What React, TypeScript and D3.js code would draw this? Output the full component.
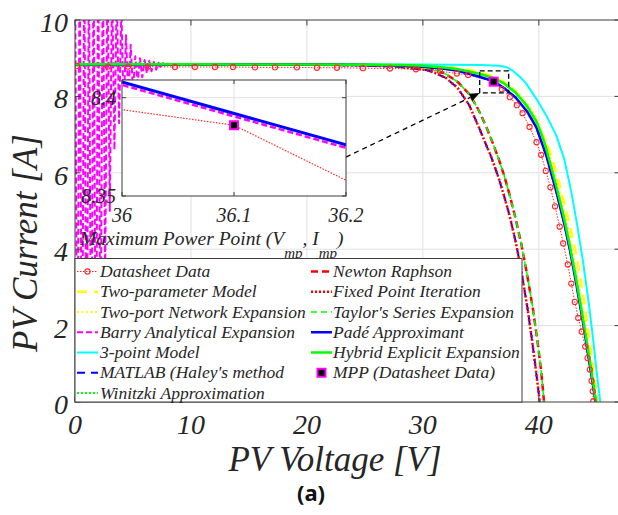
import React from "react";
import * as d3 from "d3";

type Pt = [number, number];

// ---- axis ticks -------------------------------------------------------------
const xTicks = [0, 10, 20, 30, 40];
const yTicks = [0, 2, 4, 6, 8, 10];
const insetXTicks = [36, 36.1, 36.2];
const insetYTicks = [8.35, 8.4];
const insetXLabels = ["36", "36.1", "36.2"];
const insetYLabels = ["8.35", "8.4"];

// ---- I-V data (voltage [V], current [A]) -----------------------------------
const datasheetData: Pt[] = [
  [0.17, 8.8], [2.84, 8.78], [4.57, 8.78], [6.29, 8.78], [8.62, 8.77], [10.34, 8.77],
  [12.07, 8.77], [13.62, 8.77], [15.52, 8.76], [17.24, 8.76], [19.14, 8.76], [20.86, 8.75],
  [22.59, 8.75], [24.83, 8.74], [27.16, 8.73], [29.4, 8.71], [31.47, 8.66], [32.93, 8.6],
  [33.9, 8.56], [36.1, 8.386], [36.8, 8.19], [37.5, 7.98], [38.1, 7.77], [38.6, 7.56],
  [39.2, 7.2], [39.8, 6.8], [40.2, 6.47], [40.6, 6.05], [41.0, 5.62], [41.4, 5.12],
  [41.8, 4.59], [42.1, 4.15], [42.5, 3.6], [42.8, 3.1], [43.1, 2.62], [43.4, 2.2],
  [43.7, 1.84], [44.0, 1.45], [44.2, 1.15], [44.4, 0.85], [44.55, 0.55], [44.65, 0.28],
  [44.7, 0.02],
];

const mppPoint: Pt = [36.1, 8.386];

const twoParameterModel: Pt[] = [
  [0, 8.84], [20, 8.835], [28, 8.82], [32, 8.77], [34, 8.69], [35, 8.62], [36, 8.53],
  [37, 8.38], [38, 8.12], [38.4, 7.98], [39, 7.72], [39.8, 7.3], [40.7, 6.77], [41.2, 6.33],
  [42, 5.45], [42.6, 4.7], [43.2, 3.9], [43.8, 2.85], [44.4, 1.55], [44.8, 0.6], [45.05, 0],
];

const twoPortNetwork: Pt[] = [
  [0, 8.84], [20, 8.835], [28, 8.82], [30, 8.8], [32, 8.76], [34, 8.67], [35, 8.6],
  [36, 8.52], [37, 8.38], [38, 8.16], [39, 7.82], [39.8, 7.44], [40.65, 6.78], [41.5, 5.85],
  [42.2, 4.98], [42.7, 4.25], [43.2, 3.45], [43.7, 2.58], [44.2, 1.62], [44.5, 1.02],
  [44.8, 0.4], [45.0, 0],
];

const threePointModel: Pt[] = [
  [0, 8.84], [20, 8.84], [30, 8.835], [35, 8.825], [36.5, 8.8], [37.2, 8.77], [37.8, 8.66],
  [38.4, 8.5], [38.9, 8.34], [39.8, 7.93], [40.7, 7.47], [41.5, 6.98], [42.2, 6.35],
  [42.8, 5.5], [43.3, 4.65], [43.8, 3.7], [44.3, 2.6], [44.7, 1.6], [45.0, 0.75], [45.3, 0],
];

const padeApproximant: Pt[] = [
  [0, 8.84], [10, 8.84], [20, 8.835], [25, 8.825], [28, 8.81], [30, 8.785], [32, 8.72],
  [33, 8.67], [34, 8.59], [35, 8.5], [36, 8.408], [36.2, 8.376], [37, 8.22], [38, 7.97],
  [39, 7.6], [39.8, 7.18], [40.65, 6.45], [41.5, 5.52], [42.2, 4.66], [42.7, 3.95],
  [43.2, 3.15], [43.7, 2.28], [44.2, 1.35], [44.5, 0.78], [44.8, 0.2], [44.9, 0],
];

const hybridExplicit: Pt[] = [
  [0, 8.84], [10, 8.84], [20, 8.835], [25, 8.83], [28, 8.82], [30, 8.8], [32, 8.75],
  [33, 8.71], [34, 8.65], [35, 8.58], [36, 8.49], [37, 8.34], [38, 8.1], [39, 7.74],
  [39.8, 7.34], [40.2, 7.04], [40.65, 6.62], [41.5, 5.66], [42.2, 4.78], [42.7, 4.05],
  [43.2, 3.25], [43.7, 2.38], [44.2, 1.45], [44.5, 0.88], [44.8, 0.28], [44.95, 0],
];

// series expansion diverges at low voltage, then settles onto the curve
const barryExpansion: Pt[] = [
  [0.0, 12], [0.2, -1], [0.4, 12], [0.6, -1], [0.8, 12], [1.0, -1], [1.2, 12], [1.4, -1],
  [1.6, 12], [1.8, -1], [2.0, 12], [2.2, 0.5], [2.4, 12], [2.6, 3.2], [2.8, 11.5],
  [3.0, 5.0], [3.2, 11], [3.4, 6.6], [3.6, 10.8], [3.8, 7.3], [4.0, 10.3], [4.2, 7.6],
  [4.4, 9.6], [4.6, 7.9], [4.8, 9.35], [5.0, 8.15], [5.2, 9.05], [5.4, 8.35], [5.6, 9.0],
  [5.8, 8.5], [6.0, 8.95], [6.2, 8.6], [6.4, 8.93], [6.6, 8.66], [6.8, 8.9], [7.0, 8.7],
  [7.2, 8.88], [7.4, 8.75], [7.6, 8.87], [7.8, 8.79], [8.0, 8.86], [8.2, 8.82], [8.6, 8.84],
  [10, 8.84], [20, 8.835], [25, 8.825], [28, 8.81], [30, 8.785], [32, 8.72], [33, 8.67],
  [34, 8.59], [35, 8.499], [36, 8.4065], [36.2, 8.3745], [37, 8.218], [38, 7.968],
  [39, 7.598], [39.8, 7.178], [40.65, 6.448], [41.5, 5.518], [42.2, 4.658], [42.7, 3.948],
  [43.2, 3.148], [43.7, 2.278], [44.2, 1.348], [44.5, 0.778], [44.8, 0.198], [44.9, 0],
];

// iterative Lambert-W solvers landing on the lower-voltage curve
const iterativeSolution: Pt[] = [
  [0, 8.84], [20, 8.83], [25, 8.81], [28, 8.77], [30.3, 8.69], [31, 8.62], [32, 8.48],
  [33, 8.22], [34, 7.77], [34.9, 7.14], [35.5, 6.7], [35.85, 6.45], [36.5, 5.9], [37, 5.4],
  [37.5, 4.85], [38, 4.2], [38.5, 3.42], [39, 2.5], [39.4, 1.65], [39.7, 0.95], [40.0, 0.2],
  [40.08, 0],
];

const newtonRaphson: Pt[] = [
  [0, 8.84], [20, 8.835], [25, 8.82], [28, 8.8], [30, 8.76], [31, 8.7], [32, 8.58],
  [33, 8.38], [34, 8.06], [34.6, 7.76], [35, 7.52], [35.5, 7.18], [36, 6.8], [36.5, 6.4],
  [37, 5.94], [37.5, 5.4], [38, 4.8], [38.5, 4.12], [39, 3.32], [39.5, 2.42], [39.9, 1.55],
  [40.2, 0.82], [40.45, 0],
];

// zoom window around the MPP (V range, I range) and arrow source on the inset edge
const zoomWindowV = [34.9, 37.4];
const zoomWindowI = [8.09, 8.67];
const arrowFromInset: Pt = [36.2, 8.3698];

const legendLeft = [
  "Datasheet Data",
  "Two-parameter Model",
  "Two-port Network Expansion",
  "Barry Analytical Expansion",
  "3-point Model",
  "MATLAB (Haley's method",
  "Winitzki Approximation",
];
const legendRight = [
  "Newton Raphson",
  "Fixed Point Iteration",
  "Taylor's Series Expansion",
  "Padé Approximant",
  "Hybrid Explicit Expansion",
  "MPP (Datasheet Data)",
];

// ---- styling -----------------------------------------------------------------
type Style = { color: string; width: number; dash?: string; circles?: boolean };
type Series = { name: string; data: Pt[]; style: Style };

const series: Series[] = [
  { name: legendLeft[0], data: datasheetData, style: { color: "#ff2a2a", width: 1, dash: "1.5,1.5", circles: true } },
  { name: legendLeft[1], data: twoParameterModel, style: { color: "#ffff00", width: 2.5, dash: "10,7" } },
  { name: legendLeft[2], data: twoPortNetwork, style: { color: "#ffff00", width: 2, dash: "2,2.5" } },
  { name: legendLeft[3], data: barryExpansion, style: { color: "#ff00ff", width: 2, dash: "6,3" } },
  { name: legendLeft[4], data: threePointModel, style: { color: "#00ffff", width: 2 } },
  { name: legendLeft[5], data: iterativeSolution, style: { color: "#0000ff", width: 2, dash: "8,6" } },
  { name: legendLeft[6], data: hybridExplicit, style: { color: "#00ff00", width: 2, dash: "2,2" } },
  { name: legendRight[0], data: newtonRaphson, style: { color: "#ff0000", width: 2.5, dash: "7,4" } },
  { name: legendRight[1], data: iterativeSolution, style: { color: "#ff0000", width: 2.5, dash: "2,2" } },
  { name: legendRight[2], data: newtonRaphson, style: { color: "#00ff00", width: 1.5, dash: "6,4" } },
  { name: legendRight[3], data: padeApproximant, style: { color: "#0000ff", width: 2.5 } },
  { name: legendRight[4], data: hybridExplicit, style: { color: "#00ff00", width: 2.5 } },
];

const SERIF = "'Liberation Serif', 'Times New Roman', Times, serif";
const AXIS_COLOR = "#3c3c3c";
const GRID_COLOR = "#e1e1e1";
const TEXT_COLOR = "#262626";

// ---- geometry ---------------------------------------------------------------
const X0 = 75, X1 = 620, Y0 = 402, Y1 = 20;
const x = d3.scaleLinear().domain([0, 47]).range([X0, X1]);
const y = d3.scaleLinear().domain([0, 10]).range([Y0, Y1]);

const IX0 = 122, IX1 = 346, IY0 = 196, IY1 = 80;
const ix = d3.scaleLinear().domain([36, 36.2]).range([IX0, IX1]);
const iy = d3.scaleLinear().domain([8.35, 8.409]).range([IY0, IY1]);

const mainLine = d3.line<Pt>().x((d) => x(d[0])).y((d) => y(d[1]));
const insetLine = d3.line<Pt>().x((d) => ix(d[0])).y((d) => iy(d[1]));

const italic = { fontFamily: SERIF, fontStyle: "italic" as const };

function MppMarker({ cx, cy }: { cx: number; cy: number }) {
  return <rect x={cx - 4} y={cy - 4} width={8} height={8} fill="#000" stroke="#ff00ff" strokeWidth={2} />;
}

function LegendSample({ s, x0, x1, cy }: { s: Style; x0: number; x1: number; cy: number }) {
  return (
    <g>
      <line x1={x0} x2={x1} y1={cy} y2={cy} stroke={s.color} strokeWidth={s.width} strokeDasharray={s.dash} />
      {s.circles && <circle cx={(x0 + x1) / 2} cy={cy} r={2.6} fill="none" stroke={s.color} strokeWidth={1.1} />}
    </g>
  );
}

export default function App() {
  const arrowStart: Pt = [ix(arrowFromInset[0]), iy(arrowFromInset[1])];
  const arrowEnd: Pt = [x(zoomWindowV[0]), y(zoomWindowI[0])];
  const ang = Math.atan2(arrowEnd[1] - arrowStart[1], arrowEnd[0] - arrowStart[0]);
  const headLen = 10, headW = 4;
  const hb: Pt = [arrowEnd[0] - headLen * Math.cos(ang), arrowEnd[1] - headLen * Math.sin(ang)];
  const head = [
    arrowEnd,
    [hb[0] + headW * Math.sin(ang), hb[1] - headW * Math.cos(ang)],
    [hb[0] - headW * Math.sin(ang), hb[1] + headW * Math.cos(ang)],
  ]
    .map((p) => p.join(","))
    .join(" ");

  const rowY = (i: number) => 271.5 + i * 20.25;
  const legendTop = 258.5;
  const legendRightEdge = 522;

  const datasheet = series[0];

  return (
    <svg
      width={618}
      height={515}
      viewBox="0 0 618 515"
      style={{ position: "absolute", left: 0, top: 0, background: "#fff" }}
    >
      <defs>
        <clipPath id="plotArea">
          <rect x={X0} y={Y1} width={X1 - X0} height={Y0 - Y1} />
        </clipPath>
        <clipPath id="insetArea">
          <rect x={IX0} y={IY1} width={IX1 - IX0} height={IY0 - IY1} />
        </clipPath>
      </defs>

      <rect x={0} y={0} width={618} height={515} fill="#fff" />

      {/* grid */}
      <g stroke={GRID_COLOR} strokeWidth={1}>
        {xTicks.filter((t) => t > 0).map((t) => (
          <line key={`gx${t}`} x1={x(t)} x2={x(t)} y1={Y1} y2={Y0} />
        ))}
        {yTicks.filter((t) => t > 0 && t < 10).map((t) => (
          <line key={`gy${t}`} x1={X0} x2={X1} y1={y(t)} y2={y(t)} />
        ))}
      </g>

      {/* curves */}
      <g clipPath="url(#plotArea)" fill="none">
        {series.map((s, i) => (
          <path
            key={i}
            d={mainLine(s.data) ?? ""}
            stroke={s.style.color}
            strokeWidth={s.style.width}
            strokeDasharray={s.style.dash}
            strokeLinejoin="round"
          />
        ))}
        {datasheet.data.map((d, i) => (
          <circle key={`c${i}`} cx={x(d[0])} cy={y(d[1])} r={2.6} fill="none" stroke="#ff2a2a" strokeWidth={1.1} />
        ))}
        <MppMarker cx={x(mppPoint[0])} cy={y(mppPoint[1])} />
        <rect
          x={x(zoomWindowV[0])}
          y={y(zoomWindowI[1])}
          width={x(zoomWindowV[1]) - x(zoomWindowV[0])}
          height={y(zoomWindowI[0]) - y(zoomWindowI[1])}
          fill="none"
          stroke="#000"
          strokeWidth={1.3}
          strokeDasharray="5,3"
        />
        <line
          x1={arrowStart[0]}
          y1={arrowStart[1]}
          x2={hb[0]}
          y2={hb[1]}
          stroke="#000"
          strokeWidth={1.3}
          strokeDasharray="5,4"
        />
        <polygon points={head} fill="#000" />
      </g>

      {/* main axes box and ticks */}
      <g stroke={AXIS_COLOR} strokeWidth={1} fill="none">
        <rect x={X0} y={Y1} width={X1 - X0} height={Y0 - Y1} />
        {xTicks.map((t) => (
          <g key={`tx${t}`}>
            <line x1={x(t)} x2={x(t)} y1={Y0} y2={Y0 - 5.5} />
            <line x1={x(t)} x2={x(t)} y1={Y1} y2={Y1 + 5.5} />
          </g>
        ))}
        {yTicks.map((t) => (
          <g key={`ty${t}`}>
            <line x1={X0} x2={X0 + 5.5} y1={y(t)} y2={y(t)} />
            <line x1={X1} x2={X1 - 5.5} y1={y(t)} y2={y(t)} />
          </g>
        ))}
      </g>
      <g fontSize={28} style={italic} fill={TEXT_COLOR}>
        {xTicks.map((t) => (
          <text key={`lx${t}`} x={x(t)} y={434} textAnchor="middle">
            {t}
          </text>
        ))}
        {yTicks.map((t) => (
          <text key={`ly${t}`} x={68} y={y(t) + 12} textAnchor="end">
            {t}
          </text>
        ))}
      </g>
      <text x={335} y={471} fontSize={35} style={italic} fill={TEXT_COLOR} textAnchor="middle">
        PV Voltage [V]
      </text>
      <text
        transform={`translate(37,243) rotate(-90)`}
        fontSize={35}
        style={italic}
        fill={TEXT_COLOR}
        textAnchor="middle"
      >
        PV Current [A]
      </text>

      {/* inset around the maximum power point */}
      <rect x={IX0} y={IY1} width={IX1 - IX0} height={IY0 - IY1} fill="#fff" />
      <g stroke={GRID_COLOR} strokeWidth={1}>
        <line x1={ix(36.1)} x2={ix(36.1)} y1={IY1} y2={IY0} />
        <line x1={IX0} x2={IX1} y1={iy(8.4)} y2={iy(8.4)} />
      </g>
      <g clipPath="url(#insetArea)" fill="none">
        <path d={insetLine(barryExpansion) ?? ""} stroke="#ff00ff" strokeWidth={2.5} strokeDasharray="6,3" />
        <path d={insetLine(padeApproximant) ?? ""} stroke="#0000ff" strokeWidth={3} />
        <path d={insetLine(datasheetData) ?? ""} stroke="#ff2a2a" strokeWidth={1.2} strokeDasharray="1.5,1.5" />
        <MppMarker cx={ix(mppPoint[0])} cy={iy(mppPoint[1])} />
      </g>
      <g stroke={AXIS_COLOR} strokeWidth={1} fill="none">
        <rect x={IX0} y={IY1} width={IX1 - IX0} height={IY0 - IY1} />
        {insetXTicks.map((t) => (
          <g key={`itx${t}`}>
            <line x1={ix(t)} x2={ix(t)} y1={IY0} y2={IY0 - 4} />
            <line x1={ix(t)} x2={ix(t)} y1={IY1} y2={IY1 + 4} />
          </g>
        ))}
        {insetYTicks.map((t) => (
          <g key={`ity${t}`}>
            <line x1={IX0} x2={IX0 + 4} y1={iy(t)} y2={iy(t)} />
            <line x1={IX1} x2={IX1 - 4} y1={iy(t)} y2={iy(t)} />
          </g>
        ))}
      </g>
      <g fontSize={20} style={italic} fill={TEXT_COLOR}>
        {insetXTicks.map((t, i) => (
          <text key={`ilx${t}`} x={ix(t)} y={222} textAnchor="middle">
            {insetXLabels[i]}
          </text>
        ))}
        {insetYTicks.map((t, i) => (
          <text key={`ily${t}`} x={116} y={iy(t) + 7} textAnchor="end">
            {insetYLabels[i]}
          </text>
        ))}
      </g>
      <text x={80} y={245} fontSize={19.5} style={italic} fill={TEXT_COLOR}>
        Maximum Power Point (V
        <tspan fontSize={15} dy={13}>mp</tspan>
        <tspan dy={-13}>, I</tspan>
        <tspan fontSize={15} dy={13}>mp</tspan>
        <tspan dy={-13}>)</tspan>
      </text>

      {/* legend */}
      <rect
        x={X0}
        y={legendTop}
        width={legendRightEdge - X0}
        height={Y0 - legendTop}
        fill="#fff"
        stroke={AXIS_COLOR}
        strokeWidth={1}
      />
      <g fontSize={17.5} style={italic} fill={TEXT_COLOR}>
        {legendLeft.map((name, i) => (
          <g key={`ll${i}`}>
            <LegendSample s={series[i].style} x0={77} x1={98} cy={rowY(i)} />
            <text x={100} y={rowY(i) + 5.5}>{name}</text>
          </g>
        ))}
        {legendRight.map((name, i) => (
          <g key={`lr${i}`}>
            {i < 5 ? (
              <LegendSample s={series[7 + i].style} x0={311} x1={332} cy={rowY(i)} />
            ) : (
              <MppMarker cx={321.5} cy={rowY(i)} />
            )}
            <text x={333} y={rowY(i) + 5.5}>{name}</text>
          </g>
        ))}
      </g>

      <text
        x={311}
        y={501}
        fontSize={22}
        fontWeight="bold"
        fill="#111"
        textAnchor="middle"
        style={{ fontFamily: "'Noto Sans', 'Open Sans', sans-serif" }}
      >
        (a)
      </text>
    </svg>
  );
}
